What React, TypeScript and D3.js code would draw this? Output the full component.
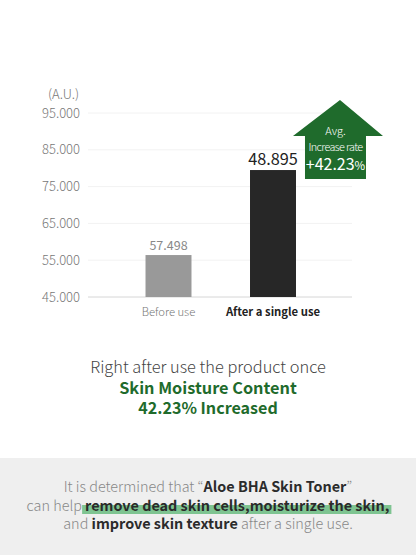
import React, { useEffect, useRef } from 'react';
import * as d3 from 'd3';

const categories = ['Before use', 'After a single use'];
const values = [56400, 79500];
const valueLabels = ['57.498', '48.895'];
const yTicks = [45000, 55000, 65000, 75000, 85000, 95000];
const increaseRate = '+42.23';

const W = 416;
const H = 555;
const GREEN = '#1f6b2c';
const LIGHT = "'Noto Sans CJK KR', Lato, sans-serif";

const App: React.FC = () => {
  const svgRef = useRef<SVGSVGElement>(null);

  useEffect(() => {
    if (!svgRef.current) return;
    const svg = d3.select(svgRef.current);
    svg.selectAll('*').remove();

    const locale = d3.formatLocale({ decimal: ',', thousands: '.', grouping: [3], currency: ['', ''] });
    const fmt = (v: number) => locale.format(',')(v);

    const x = d3.scaleBand<string>()
      .domain(categories)
      .range([116.25, 325.25])
      .paddingInner(0.56)
      .paddingOuter(0.28);

    const y = d3.scaleLinear()
      .domain([45000, 95000])
      .range([297, 113]);

    svg.append('rect').attr('width', W).attr('height', H).attr('fill', '#fff');

    // grid
    svg.append('g')
      .selectAll('line')
      .data(yTicks)
      .enter()
      .append('line')
      .attr('x1', 88)
      .attr('x2', 352)
      .attr('y1', d => y(d))
      .attr('y2', d => y(d))
      .attr('stroke', d => (d === 45000 ? '#d6d6d6' : '#f2f2f2'))
      .attr('stroke-width', 1);

    svg.append('g')
      .selectAll('text')
      .data(yTicks)
      .enter()
      .append('text')
      .attr('x', 80)
      .attr('y', d => y(d) + 4.5)
      .attr('text-anchor', 'end')
      .attr('font-family', LIGHT)
      .attr('font-weight', 300)
      .attr('font-size', 13)
      .attr('fill', '#777')
      .text(d => fmt(d));

    svg.append('text')
      .attr('x', 48)
      .attr('y', 99)
      .attr('font-family', LIGHT)
      .attr('font-weight', 300)
      .attr('font-size', 13)
      .attr('fill', '#777')
      .text('(A.U.)');

    // bars
    const barColors = ['#999999', '#272727'];
    svg.append('g')
      .selectAll('rect')
      .data(values)
      .enter()
      .append('rect')
      .attr('x', (_, i) => x(categories[i]) || 0)
      .attr('y', d => y(d))
      .attr('width', x.bandwidth())
      .attr('height', d => y(45000) - y(d))
      .attr('fill', (_, i) => barColors[i]);

    const labelSizes = [12.5, 16.3];
    const labelColors = ['#888', '#222'];
    svg.append('g')
      .selectAll('text')
      .data(values)
      .enter()
      .append('text')
      .attr('x', (_, i) => (x(categories[i]) || 0) + x.bandwidth() / 2)
      .attr('y', d => y(d) - 5)
      .attr('text-anchor', 'middle')
      .attr('font-family', LIGHT)
      .attr('font-weight', 400)
      .attr('font-size', (_, i) => labelSizes[i])
      .attr('fill', (_, i) => labelColors[i])
      .text((_, i) => valueLabels[i]);

    svg.append('g')
      .selectAll('text')
      .data(categories)
      .enter()
      .append('text')
      .attr('x', d => (x(d) || 0) + x.bandwidth() / 2)
      .attr('y', 316)
      .attr('text-anchor', 'middle')
      .attr('font-family', LIGHT)
      .attr('font-weight', (_, i) => (i === 0 ? 300 : 700))
      .attr('font-size', 11.3)
      .attr('fill', (_, i) => (i === 0 ? '#777' : '#222'))
      .text(d => d);

    // arrow
    const ax = (x(categories[1]) || 0) + x.bandwidth() + 44;
    const tipY = y(95000) - 13;
    const wingY = tipY + 36;
    const botY = tipY + 79;
    const arrow = d3.path();
    arrow.moveTo(ax, tipY);
    arrow.lineTo(ax + 43, wingY);
    arrow.lineTo(ax + 26, wingY);
    arrow.lineTo(ax + 26, botY);
    arrow.lineTo(ax - 35, botY);
    arrow.lineTo(ax - 35, wingY);
    arrow.lineTo(ax - 47, wingY);
    arrow.closePath();
    svg.append('path').attr('d', arrow.toString()).attr('fill', GREEN);

    // arrow text: one text element, three lines
    const cx = ax - 4.5;
    const at = svg.append('text')
      .attr('text-anchor', 'middle')
      .attr('font-family', LIGHT)
      .attr('fill', '#fff');
    at.append('tspan')
      .attr('x', cx).attr('y', tipY + 35)
      .attr('font-weight', 300).attr('font-size', 11)
      .text('Avg.');
    at.append('tspan')
      .attr('x', cx).attr('y', tipY + 51)
      .attr('font-weight', 300).attr('font-size', 10.8)
      .attr('letter-spacing', -0.6)
      .text('Increase rate');
    at.append('tspan')
      .attr('x', cx).attr('y', tipY + 70)
      .attr('font-weight', 400).attr('font-size', 16)
      .text(increaseRate);
    at.append('tspan')
      .attr('font-weight', 400).attr('font-size', 11.5)
      .text('%');

    // headline
    const head = svg.append('text')
      .attr('text-anchor', 'middle')
      .attr('font-family', LIGHT);
    head.append('tspan')
      .attr('x', W / 2).attr('y', 373)
      .attr('font-weight', 300).attr('font-size', 16.4).attr('fill', '#444')
      .text('Right after use the product once');
    head.append('tspan')
      .attr('x', W / 2).attr('y', 393.5)
      .attr('font-weight', 700).attr('font-size', 16.3).attr('fill', GREEN)
      .text('Skin Moisture Content');
    head.append('tspan')
      .attr('x', W / 2).attr('y', 413.5)
      .attr('font-weight', 700).attr('font-size', 16.1).attr('fill', GREEN)
      .text('42.23% Increased');

    // bottom panel
    svg.append('rect').attr('x', 0).attr('y', 458).attr('width', W).attr('height', H - 458).attr('fill', '#efefef');

    const hl = svg.append('rect').attr('fill', '#7ec491');

    const lines: [string, boolean][][] = [
      [['It is determined that \u201C', false], ['Aloe BHA Skin Toner', true], ['\u201D', false]],
      [['can help ', false], ['remove dead skin cells,moisturize the skin,', true]],
      [['and ', false], ['improve skin texture', true], [' after a single use.', false]],
    ];
    const lineY = [492, 511, 529];
    lines.forEach((parts, li) => {
      const t = svg.append('text')
        .attr('x', W / 2).attr('y', lineY[li])
        .attr('text-anchor', 'middle')
        .attr('font-family', LIGHT)
        .attr('font-size', 14.4);
      parts.forEach(([s, b]) => {
        t.append('tspan')
          .attr('font-weight', b ? 700 : 300)
          .attr('fill', b ? '#2b2b2b' : '#888')
          .text(s);
      });
      if (li === 1) {
        const node = t.node() as SVGTextElement;
        const start = parts[0][0].length;
        const end = start + parts[1][0].length - 1;
        const x0 = node.getStartPositionOfChar(start).x;
        const x1 = node.getEndPositionOfChar(end).x;
        hl.attr('x', x0 - 3).attr('y', lineY[li] - 6).attr('width', x1 - x0 + 5).attr('height', 9);
      }
    });
  }, []);

  return (
    <svg
      ref={svgRef}
      width={W}
      height={H}
      style={{ position: 'absolute', left: 0, top: 0 }}
    />
  );
};

export default App;
